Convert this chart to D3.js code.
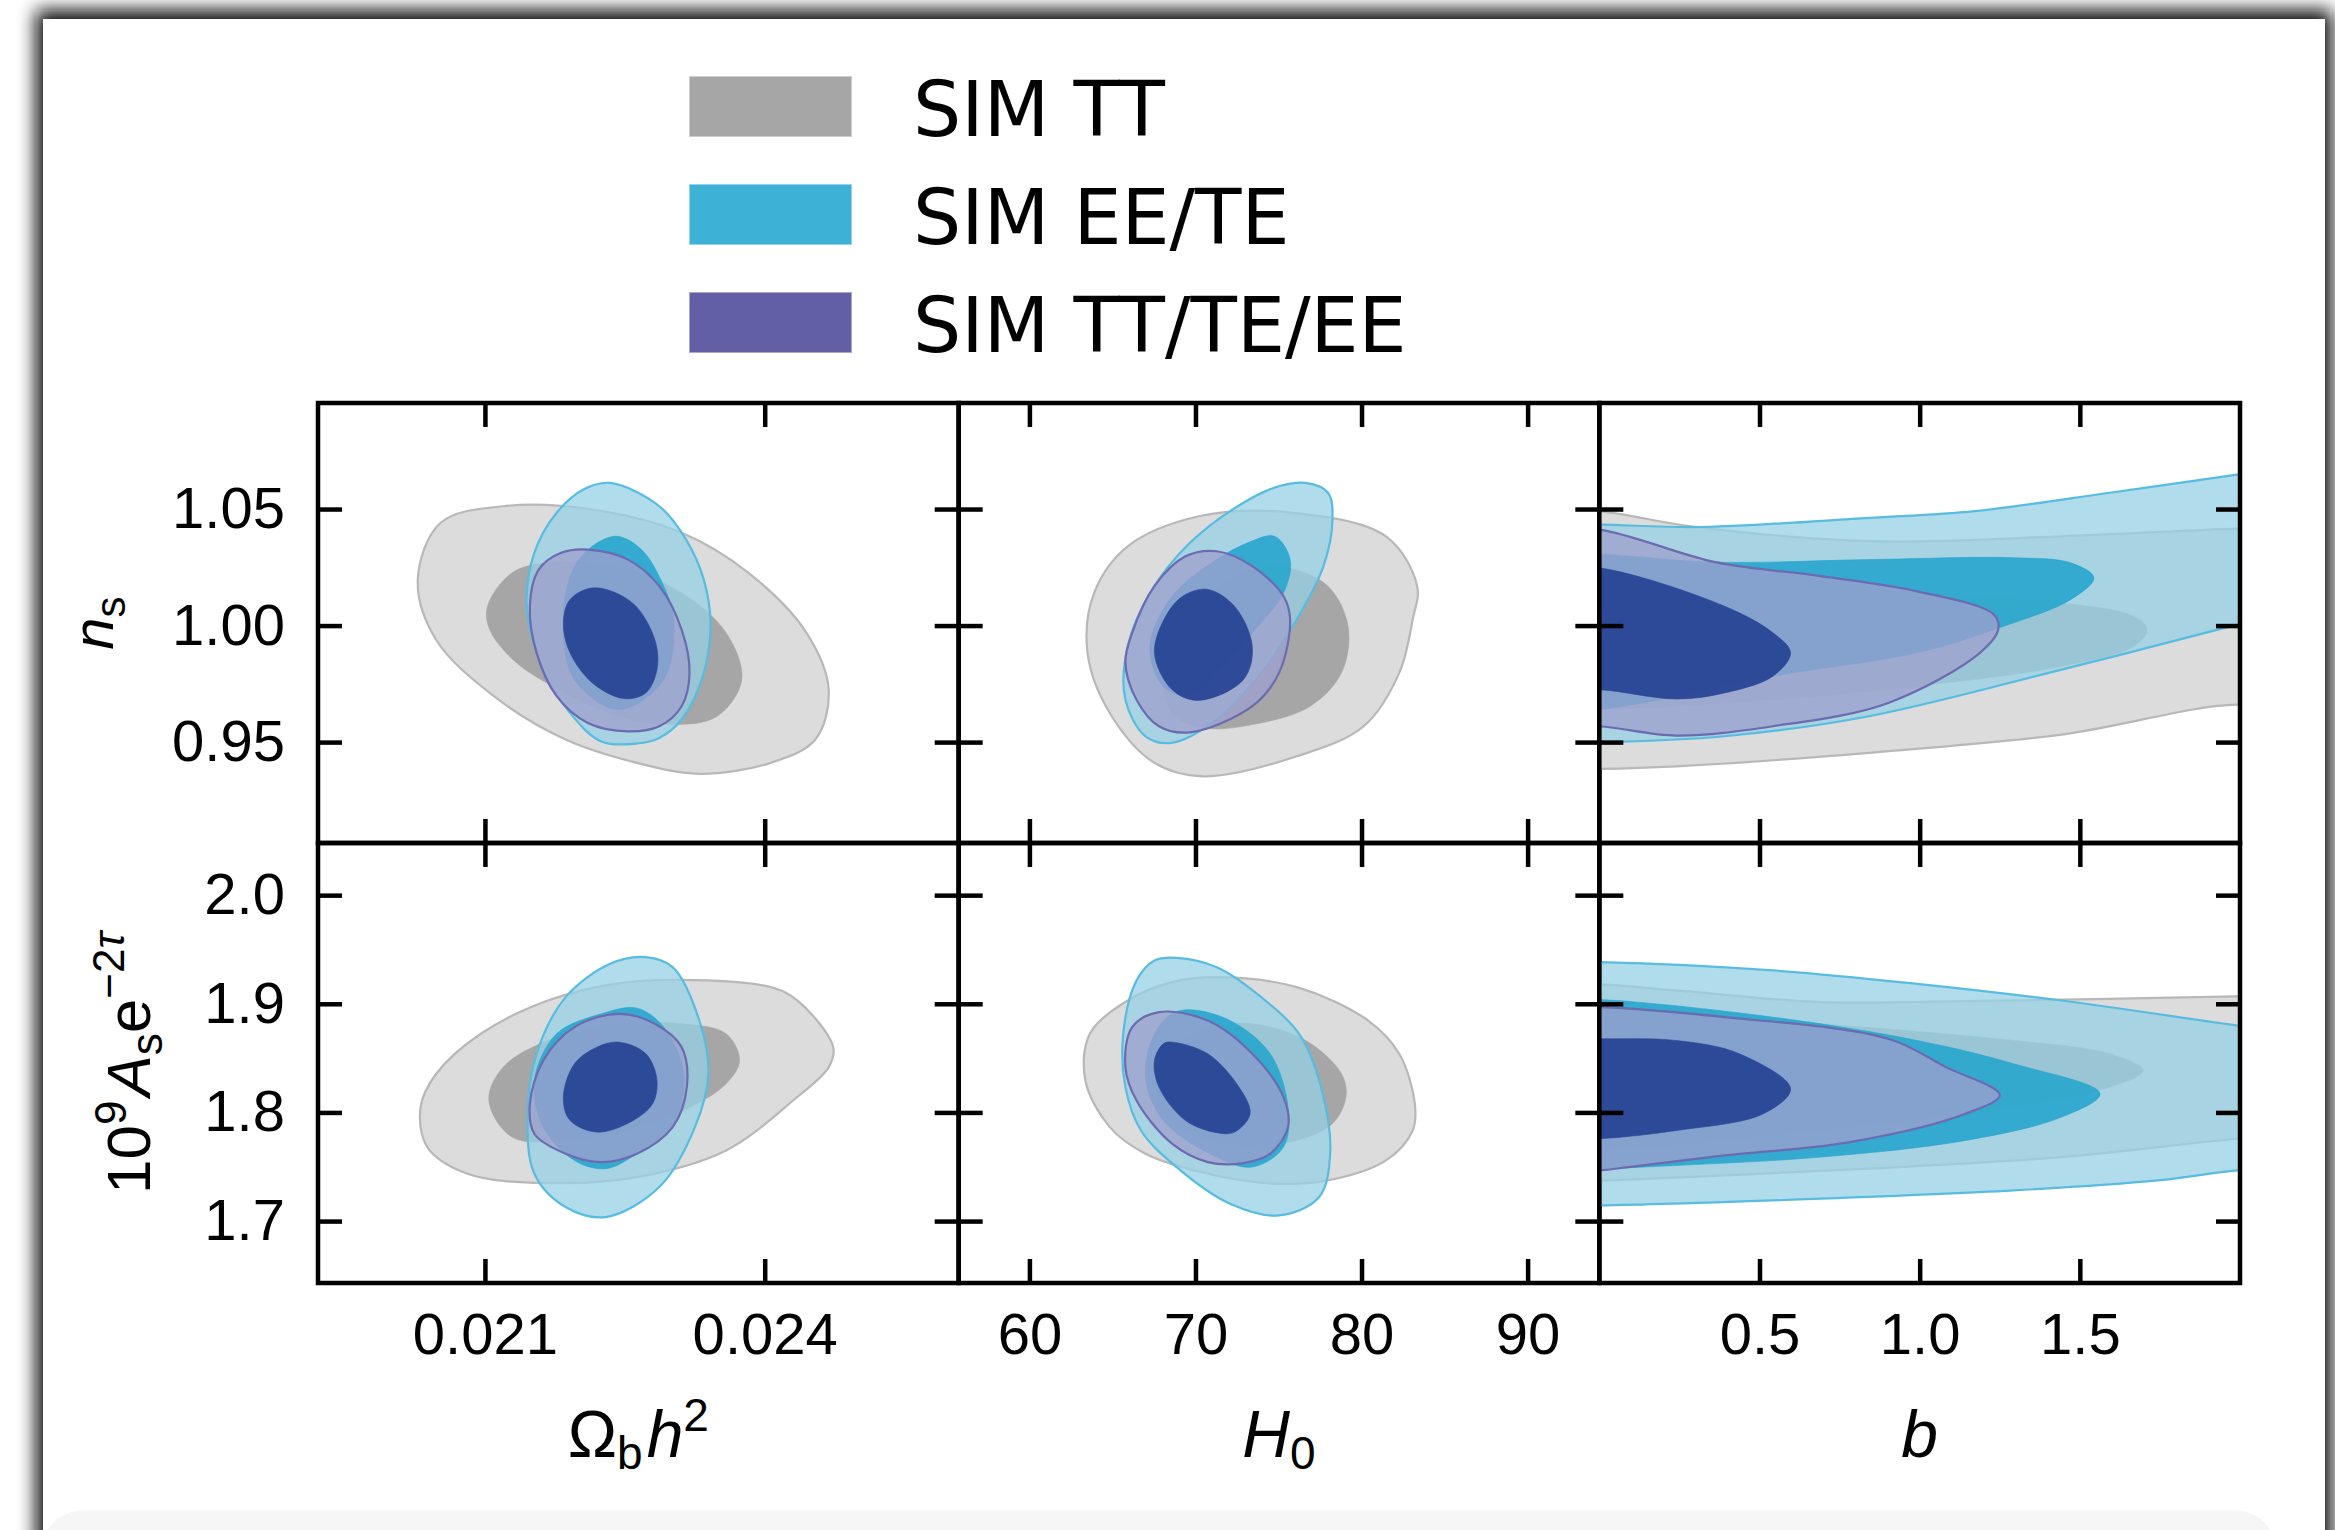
<!DOCTYPE html>
<html>
<head>
<meta charset="utf-8">
<script src="https://cdn.jsdelivr.net/npm/d3@7"></script>
<style>
	html, body { margin: 0; padding: 0; background: #fff; }
	svg { display: block; }
</style>
</head>
<body>
<div id="chart"></div>
<script>
const seriesNames = ['SIM TT', 'SIM EE/TE', 'SIM TT/TE/EE'];
const legendColors = ['#a6a6a6', '#3db1d6', '#625fa6'];

const xTicks = [[0.021, 0.024], [60, 70, 80, 90], [0.5, 1.0, 1.5]];
const xTickLabels = [['0.021', '0.024'], ['60', '70', '80', '90'], ['0.5', '1.0', '1.5']];
const yTicks = [[0.95, 1.00, 1.05], [1.7, 1.8, 1.9, 2.0]];
const yTickLabels = [['0.95', '1.00', '1.05'], ['1.7', '1.8', '1.9', '2.0']];
const xRanges = [[0.01921, 0.02608], [55.74, 94.32], [0, 2]];
const yRanges = [[0.9067, 1.0955], [1.643, 2.048]];

// contours as [x, y] points, one entry per panel (row by row), each [outer, inner]
const contoursTT = [
	[
		[[0.02028,1.0197],[0.020525,1.0441],[0.021193,1.0512],[0.022152,1.0498],[0.023109,1.0398],[0.023826,1.0226],[0.024448,0.9969],[0.024686,0.9725],[0.024543,0.9511],[0.024064,0.9411],[0.023299,0.9364],[0.022629,0.9411],[0.021865,0.9511],[0.021096,0.9697],[0.020475,0.9940]],
		[[0.021028,1.0083],[0.021289,1.0226],[0.021674,1.0269],[0.022391,1.0255],[0.023109,1.0140],[0.023586,0.9969],[0.023754,0.9768],[0.023491,0.9611],[0.023013,0.9575],[0.022439,0.9611],[0.021865,0.9711],[0.021339,0.9840],[0.021051,0.9983]]
	],
	[
		[[75.57,1.0486],[81.47,1.0383],[83.35,1.0169],[83.08,1.0026],[82.27,0.9797],[80.13,0.9568],[76.10,0.9439],[70.47,0.9353],[67.53,0.9411],[64.84,0.9625],[63.50,0.9883],[63.90,1.0140],[65.92,1.0340],[70.20,1.0469]],
		[[75.57,1.0248],[77.98,1.0169],[79.19,0.9997],[78.79,0.9797],[76.91,0.9654],[73.42,0.9575],[70.47,0.9561],[68.59,0.9625],[68.06,0.9840],[69.67,1.0055],[72.08,1.0197],[73.96,1.0248]]
	],
	[
		[[-0.2,1.049],[0,1.049],[0.286,1.0426],[0.842,1.0362],[1.443,1.0383],[1.991,1.0416],[2.2,1.042],[2.2,0.962],[1.991,0.9661],[1.443,0.9532],[0.842,0.9454],[0.241,0.9396],[0,0.9385],[-0.2,0.9385]],
		[[-0.2,1.0312],[0,1.0312],[0.542,1.0226],[0.992,1.0140],[1.443,1.0097],[1.668,1.0040],[1.710,0.9983],[1.668,0.9911],[1.443,0.9825],[0.992,0.9740],[0.542,0.9682],[0,0.9640],[-0.2,0.9640]]
	],
	[
		[[0.023109,1.9221],[0.024064,1.9153],[0.024352,1.9030],[0.024735,1.8601],[0.024687,1.8417],[0.024304,1.8110],[0.023586,1.7650],[0.022630,1.7405],[0.021674,1.7350],[0.020813,1.7436],[0.020382,1.7681],[0.020310,1.8049],[0.020478,1.8356],[0.020956,1.8724],[0.021674,1.9030],[0.022391,1.9184]],
		[[0.023109,1.8816],[0.023586,1.8724],[0.023730,1.8478],[0.023586,1.8264],[0.023204,1.8049],[0.022630,1.7865],[0.021865,1.7742],[0.021290,1.7773],[0.021042,1.8110],[0.021195,1.8417],[0.021674,1.8662],[0.022391,1.8816]]
	],
	[
		[[71.28,1.9245],[76.10,1.9153],[80.40,1.8846],[82.27,1.8540],[83.21,1.8080],[83.08,1.7834],[81.47,1.7558],[77.98,1.7374],[74.76,1.7344],[70.74,1.7436],[66.99,1.7620],[64.84,1.7865],[63.37,1.8294],[63.64,1.8724],[65.92,1.9030],[68.59,1.9199]],
		[[73.42,1.8816],[76.64,1.8662],[78.79,1.8356],[79.06,1.8141],[78.25,1.7896],[76.10,1.7742],[73.42,1.7696],[70.74,1.7742],[68.06,1.7988],[67.53,1.8294],[68.86,1.8601],[71.01,1.8785]]
	],
	[
		[[-0.2,1.9178],[0,1.9178],[0.241,1.9123],[0.692,1.9016],[1.143,1.9025],[1.593,1.9046],[1.991,1.9068],[2.2,1.9075],[2.2,1.7800],[1.991,1.7758],[1.443,1.7589],[0.842,1.7482],[0.391,1.7420],[0,1.7374],[-0.2,1.7374]],
		[[-0.2,1.8969],[0,1.8969],[0.692,1.8816],[1.293,1.8662],[1.593,1.8540],[1.698,1.8386],[1.593,1.8233],[1.293,1.8049],[0.692,1.7834],[0,1.7650],[-0.2,1.7650]]
	]
];

const contoursEETE = [
	[
		[[0.022344,1.0612],[0.022870,1.0512],[0.023157,1.0369],[0.023347,1.0197],[0.023419,0.9997],[0.023324,0.9768],[0.023109,0.9597],[0.022870,0.9518],[0.022630,0.9494],[0.022247,0.9503],[0.021913,0.9625],[0.021626,0.9811],[0.021449,1.0083],[0.021530,1.0312],[0.021769,1.0484],[0.022056,1.0584]],
		[[0.022391,1.0383],[0.022678,1.0326],[0.022917,1.0169],[0.023025,1.0026],[0.022918,0.9768],[0.022436,0.9640],[0.021960,0.9768],[0.021841,1.0056],[0.022007,1.0283]]
	],
	[
		[[76.64,1.0612],[77.98,1.0570],[78.25,1.0455],[77.71,1.0255],[76.10,1.0026],[73.96,0.9797],[71.28,0.9597],[68.59,0.9497],[66.99,0.9525],[65.78,0.9682],[65.92,0.9911],[67.26,1.0140],[69.67,1.0355],[72.89,1.0527],[75.03,1.0598]],
		[[74.76,1.0383],[75.70,1.0283],[75.30,1.0140],[73.42,0.9969],[71.28,0.9797],[69.67,0.9697],[68.06,0.9739],[67.26,0.9911],[68.59,1.0126],[71.28,1.0283],[73.15,1.0355]]
	],
	[
		[[-0.2,1.0433],[0,1.0433],[0.317,1.0423],[0.842,1.0462],[1.172,1.0491],[1.593,1.0570],[1.991,1.0648],[2.2,1.069],[2.2,1.008],[1.991,1.0004],[1.443,0.9811],[0.842,0.9611],[0.391,0.9525],[0,0.9499],[-0.2,0.9499]],
		[[-0.2,1.0305],[0,1.0305],[0.362,1.0272],[0.842,1.0283],[1.292,1.0291],[1.472,1.0269],[1.544,1.0205],[1.472,1.0112],[1.247,0.9990],[0.992,0.9883],[0.542,0.9783],[0,0.964],[-0.2,0.964]]
	],
	[
		[[0.022726,1.9429],[0.023013,1.9337],[0.023299,1.8846],[0.023396,1.8356],[0.023252,1.7865],[0.022870,1.7313],[0.022295,1.7037],[0.021865,1.7129],[0.021530,1.7436],[0.021459,1.7988],[0.021554,1.8540],[0.021865,1.9061],[0.022344,1.9368]],
		[[0.022630,1.8960],[0.022917,1.8785],[0.023132,1.8356],[0.023013,1.7865],[0.022630,1.7620],[0.022295,1.7482],[0.021960,1.7558],[0.021626,1.7865],[0.021530,1.8294],[0.021769,1.8724],[0.022247,1.8908]]
	],
	[
		[[68.86,1.9423],[71.28,1.9337],[73.96,1.9061],[76.37,1.8693],[77.71,1.8141],[78.11,1.7620],[77.45,1.7221],[75.03,1.7052],[72.08,1.7160],[68.86,1.7497],[66.72,1.7834],[65.78,1.8233],[65.65,1.8724],[66.45,1.9214],[67.53,1.9398]],
		[[69.67,1.8945],[72.08,1.8846],[74.50,1.8540],[75.57,1.8049],[75.30,1.7681],[73.42,1.7497],[71.28,1.7589],[68.06,1.7926],[66.99,1.8325],[67.53,1.8724],[68.59,1.8908]]
	],
	[
		[[-0.2,1.9383],[0,1.9383],[0.542,1.9307],[0.992,1.9184],[1.443,1.9030],[1.991,1.8800],[2.2,1.872],[2.2,1.750],[1.991,1.7466],[1.743,1.7374],[1.293,1.7282],[0.692,1.7206],[0,1.7144],[-0.2,1.7144]],
		[[-0.2,1.9040],[0,1.9040],[0.542,1.8877],[0.992,1.8662],[1.293,1.8448],[1.563,1.8172],[1.443,1.7957],[1.143,1.7742],[0.692,1.7589],[0.241,1.7512],[0,1.7482],[-0.2,1.7482]]
	]
];

const contoursAll = [
	[
		[[0.022104,1.0326],[0.022534,1.0283],[0.022870,1.0169],[0.023109,0.9983],[0.023194,0.9797],[0.023109,0.9654],[0.022870,0.9568],[0.022534,0.9546],[0.022104,0.9582],[0.021769,0.9697],[0.021554,0.9883],[0.021482,1.0083],[0.021577,1.0240],[0.021817,1.0312]],
		[[0.022175,1.0162],[0.022582,1.0097],[0.022821,0.9940],[0.022845,0.9811],[0.022725,0.9711],[0.022487,0.9687],[0.022152,0.9754],[0.021913,0.9883],[0.021841,1.0012],[0.021913,1.0112]]
	],
	[
		[[71.28,1.0319],[73.42,1.0255],[75.30,1.0126],[75.70,1.0026],[75.03,0.9797],[73.42,0.9654],[69.67,0.9542],[67.80,0.9568],[66.45,0.9682],[65.78,0.9840],[66.19,0.9969],[67.53,1.0169],[69.40,1.0297]],
		[[70.74,1.0155],[72.35,1.0083],[73.42,0.9911],[72.89,0.9768],[70.20,0.9679],[68.59,0.9725],[67.53,0.9883],[68.33,1.0055],[69.40,1.0133]]
	],
	[
		[[-0.2,1.0412],[0,1.0412],[0.362,1.0272],[0.692,1.0212],[0.992,1.0147],[1.232,1.0047],[1.245,0.9983],[1.188,0.9883],[0.902,0.9668],[0.542,0.9568],[0.241,0.9528],[0,0.9568],[-0.2,0.9568]],
		[[-0.2,1.0248],[0,1.0248],[0.391,1.0083],[0.542,0.9969],[0.597,0.9883],[0.542,0.9783],[0.391,0.9711],[0.241,0.9685],[0,0.9725],[-0.2,0.9725]]
	],
	[
		[[0.022439,1.8908],[0.022821,1.8816],[0.023109,1.8601],[0.023165,1.8233],[0.023013,1.7865],[0.022630,1.7620],[0.022247,1.7543],[0.021865,1.7620],[0.021530,1.7804],[0.021482,1.8080],[0.021626,1.8478],[0.021960,1.8785]],
		[[0.022439,1.8647],[0.022726,1.8540],[0.022845,1.8294],[0.022773,1.8049],[0.022247,1.7819],[0.021913,1.7926],[0.021841,1.8141],[0.021960,1.8448],[0.022200,1.8601]]
	],
	[
		[[67.80,1.8923],[70.74,1.8846],[73.42,1.8540],[75.30,1.8141],[75.57,1.7865],[74.50,1.7620],[72.89,1.7534],[70.74,1.7543],[68.59,1.7712],[66.45,1.8110],[65.78,1.8417],[66.19,1.8785]],
		[[68.59,1.8647],[70.74,1.8540],[72.62,1.8233],[73.29,1.7988],[72.35,1.7819],[71.28,1.7813],[69.40,1.7926],[67.80,1.8233],[67.53,1.8478],[68.06,1.8632]]
	],
	[
		[[-0.2,1.8969],[0,1.8969],[0.391,1.8877],[0.902,1.8678],[1.082,1.8417],[1.25,1.816],[1.143,1.7988],[0.782,1.7727],[0.391,1.7604],[0.091,1.7497],[0,1.7466],[-0.2,1.7466]],
		[[-0.2,1.8678],[0,1.8678],[0.241,1.8662],[0.437,1.8540],[0.597,1.8218],[0.512,1.7988],[0.241,1.7834],[0,1.7758],[-0.2,1.7758]]
	]
];

const allContours = [contoursTT, contoursEETE, contoursAll];

const contourStyles = [
	{ outer: { fill: '#dcdcdc', opacity: 1, stroke: '#b8b8b8' }, inner: { fill: '#a6a6a6', opacity: 1 } },
	{ outer: { fill: 'rgb(148,208,229)', opacity: 0.74, stroke: '#58bce0' }, inner: { fill: 'rgb(40,165,205)', opacity: 0.9 } },
	{ outer: { fill: 'rgb(159,160,205)', opacity: 0.77, stroke: '#6b6bb0' }, inner: { fill: 'rgb(42,71,150)', opacity: 0.97 } }
];

const W = 2335, H = 1530;
const panelLeft = 318, panelTop = 403, pw = 640.67, ph = 440;
const tickFont = '"Liberation Sans", Arial, sans-serif';

const svg = d3.select('#chart').append('svg')
	.attr('width', W).attr('height', H)
	.attr('viewBox', [0, 0, W, H]);

const defs = svg.append('defs');
defs.append('filter').attr('id', 'blur')
	.attr('x', '-5%').attr('y', '-5%').attr('width', '110%').attr('height', '110%')
	.append('feGaussianBlur').attr('stdDeviation', 9);

// page card with its shadow
svg.append('rect').attr('width', W).attr('height', H).attr('fill', '#fff');
svg.append('rect')
	.attr('x', 36).attr('y', 10).attr('width', 2296).attr('height', 1580)
	.attr('fill', '#111').attr('filter', 'url(#blur)');
svg.append('rect')
	.attr('x', 43).attr('y', 19).attr('width', 2282).attr('height', 1580)
	.attr('fill', '#fff');
svg.append('rect')
	.attr('x', 46).attr('y', 1510).attr('width', 2226).attr('height', 60).attr('rx', 40)
	.attr('fill', '#f6f6f6');

for (let r = 0; r < 2; r++) {
	for (let c = 0; c < 3; c++) {
		const x0 = panelLeft + c * pw, x1 = panelLeft + (c + 1) * pw;
		const y0 = panelTop + (r + 1) * ph, y1 = panelTop + r * ph;
		const x = d3.scaleLinear().domain(xRanges[c]).range([x0, x1]);
		const y = d3.scaleLinear().domain(yRanges[r]).range([y0, y1]);

		const clipId = `clip-${r}-${c}`;
		defs.append('clipPath').attr('id', clipId)
			.append('rect').attr('x', x0).attr('y', y1).attr('width', pw).attr('height', ph);

		const line = d3.line()
			.x(d => x(d[0]))
			.y(d => y(d[1]))
			.curve(d3.curveCatmullRomClosed.alpha(0.5));

		const g = svg.append('g').attr('clip-path', `url(#${clipId})`);
		allContours.forEach((contours, s) => {
			const [outer, inner] = contours[r * 3 + c];
			const st = contourStyles[s];
			g.append('path')
				.attr('d', line(outer))
				.attr('fill', st.outer.fill)
				.attr('fill-opacity', st.outer.opacity)
				.attr('stroke', st.outer.stroke)
				.attr('stroke-width', 2.2);
			g.append('path')
				.attr('d', line(inner))
				.attr('fill', st.inner.fill)
				.attr('fill-opacity', st.inner.opacity)
				.attr('stroke', st.inner.fill)
				.attr('stroke-opacity', 0.6)
				.attr('stroke-width', 1);
		});

		const axes = svg.append('g').attr('class', 'axes');
		axes.append('g')
			.attr('transform', `translate(0,${y0})`)
			.call(d3.axisBottom(x).tickValues(xTicks[c]).tickSize(-24).tickSizeOuter(0).tickPadding(30)
				.tickFormat((d, i) => r === 1 ? xTickLabels[c][i] : ''));
		axes.append('g')
			.attr('transform', `translate(0,${y1})`)
			.call(d3.axisTop(x).tickValues(xTicks[c]).tickSize(-24).tickSizeOuter(0).tickFormat(''));
		axes.append('g')
			.attr('transform', `translate(${x0},0)`)
			.call(d3.axisLeft(y).tickValues(yTicks[r]).tickSize(-24).tickSizeOuter(0).tickPadding(33)
				.tickFormat((d, i) => c === 0 ? yTickLabels[r][i] : ''));
		axes.append('g')
			.attr('transform', `translate(${x1},0)`)
			.call(d3.axisRight(y).tickValues(yTicks[r]).tickSize(-24).tickSizeOuter(0).tickFormat(''));

		axes.selectAll('.domain').remove();
		axes.selectAll('g')
			.attr('font-family', tickFont)
			.attr('font-size', 58);
		axes.selectAll('line')
			.attr('stroke', '#000')
			.attr('stroke-width', 4.5);
		axes.selectAll('text').attr('fill', '#000');

		svg.append('rect')
			.attr('x', x0).attr('y', y1).attr('width', pw).attr('height', ph)
			.attr('fill', 'none')
			.attr('stroke', '#000')
			.attr('stroke-width', 4.5);
	}
}

// axis titles
const titleFont = 66, scriptFont = 46;
const xTitles = svg.append('g')
	.attr('font-family', tickFont)
	.attr('font-size', titleFont)
	.attr('text-anchor', 'middle');

const t0 = xTitles.append('text').attr('x', panelLeft + pw * 0.5).attr('y', 1457);
t0.append('tspan').text('\u03a9');
t0.append('tspan').attr('font-size', scriptFont).attr('dy', 12).text('b');
t0.append('tspan').attr('font-style', 'italic').attr('dy', -12).attr('dx', 4).text('h');
t0.append('tspan').attr('font-size', scriptFont).attr('dy', -26).text('2');

const t1 = xTitles.append('text').attr('x', panelLeft + pw * 1.5).attr('y', 1457);
t1.append('tspan').attr('font-style', 'italic').text('H');
t1.append('tspan').attr('font-size', scriptFont).attr('dy', 12).text('0');

xTitles.append('text').attr('x', panelLeft + pw * 2.5).attr('y', 1457)
	.attr('font-style', 'italic').text('b');

const yTitles = svg.append('g')
	.attr('font-family', tickFont)
	.attr('text-anchor', 'middle');

const n = yTitles.append('text')
	.attr('transform', `translate(113,${panelTop + ph * 0.5}) rotate(-90)`)
	.attr('font-size', 58);
n.append('tspan').attr('font-style', 'italic').text('n');
n.append('tspan').attr('font-size', 42).attr('dy', 12).text('s');

const a = yTitles.append('text')
	.attr('transform', `translate(150,${panelTop + ph * 1.5}) rotate(-90)`)
	.attr('font-size', 62);
a.append('tspan').text('10');
a.append('tspan').attr('font-size', 44).attr('dy', -24).text('9');
a.append('tspan').attr('font-style', 'italic').attr('dy', 24).attr('dx', 4).text('A');
a.append('tspan').attr('font-size', 44).attr('dy', 12).text('s');
a.append('tspan').attr('dy', -12).text('e');
a.append('tspan').attr('font-size', 44).attr('dy', -26).text('\u22122');
a.append('tspan').attr('font-size', 44).attr('font-style', 'italic').text('\u03c4');

// legend
const legend = svg.append('g').attr('class', 'legend');
seriesNames.forEach((name, i) => {
	legend.append('rect')
		.attr('x', 689).attr('y', 76 + i * 108)
		.attr('width', 163).attr('height', 61)
		.attr('fill', legendColors[i])
		.attr('stroke', '#fff').attr('stroke-opacity', 0.45).attr('stroke-width', 2);
	legend.append('text')
		.attr('x', 913).attr('y', 136 + i * 108)
		.attr('font-family', '"DejaVu Sans", sans-serif')
		.attr('font-size', 76)
		.attr('fill', '#000')
		.text(name);
});
</script>
</body>
</html>
